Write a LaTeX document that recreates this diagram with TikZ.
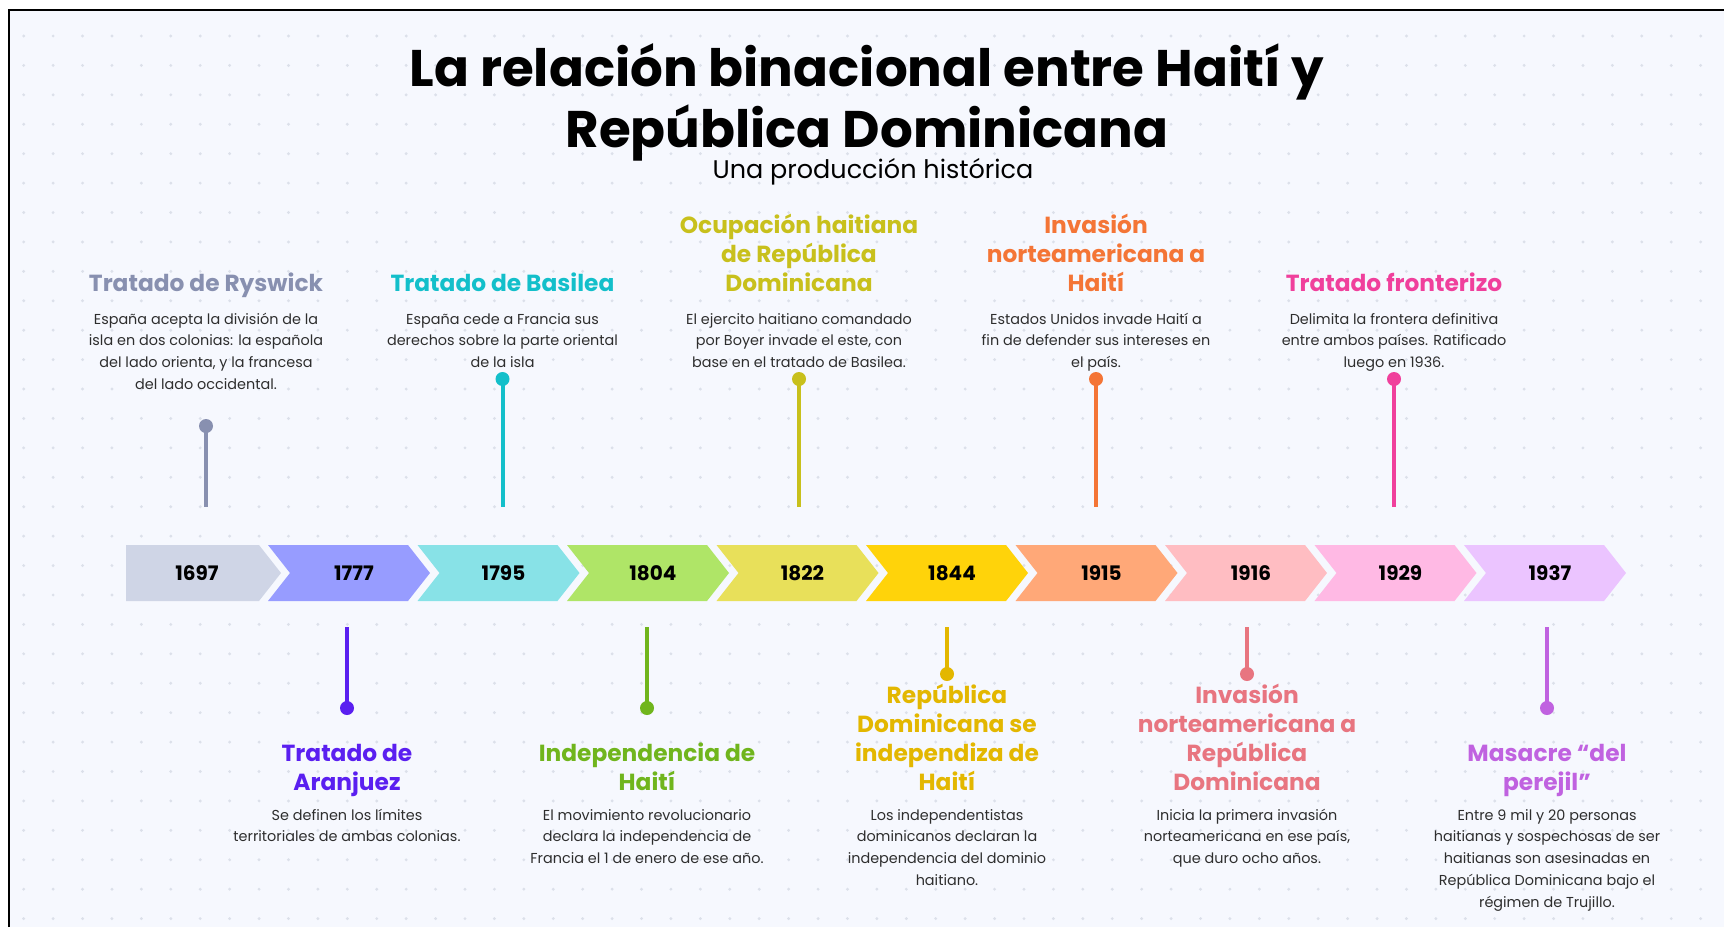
\documentclass[tikz,border=0pt]{standalone}
\usepackage{fontspec}
\setmainfont{Poppins}
\usepackage{xcolor}
\usetikzlibrary{positioning}

\definecolor{paper}{HTML}{F6F8FE}
\definecolor{griddot}{HTML}{DCE0EA}
\definecolor{desctext}{HTML}{2E2E2E}
\definecolor{chevA}{HTML}{CFD5E6}
\definecolor{chevB}{HTML}{979CFF}
\definecolor{chevC}{HTML}{88E2E7}
\definecolor{chevD}{HTML}{AFE567}
\definecolor{chevE}{HTML}{E8E05A}
\definecolor{chevF}{HTML}{FFD30A}
\definecolor{chevG}{HTML}{FFA878}
\definecolor{chevH}{HTML}{FFBDC2}
\definecolor{chevI}{HTML}{FFB9E4}
\definecolor{chevJ}{HTML}{EBC4FF}
\definecolor{ryswick}{HTML}{8890B0}
\definecolor{basilea}{HTML}{13BFCA}
\definecolor{ocupacion}{HTML}{C8C01C}
\definecolor{invhaiti}{HTML}{F47536}
\definecolor{fronterizo}{HTML}{F0409C}
\definecolor{aranjuez}{HTML}{5A1FF0}
\definecolor{independencia}{HTML}{70B51D}
\definecolor{rdindep}{HTML}{E3B700}
\definecolor{invrd}{HTML}{E87580}
\definecolor{masacre}{HTML}{C062E0}

\tikzset{
    evtitle/.style={align=center, inner sep=0pt, anchor=south,
                    font=\fontsize{23.3}{29}\selectfont\bfseries},
    evtext/.style={align=center, inner sep=0pt, anchor=north, text=desctext,
                   font=\fontsize{14.4}{21.7}\selectfont},
    yearlabel/.style={inner sep=0pt, anchor=base, font=\fontsize{20}{24}\selectfont\bfseries},
    pin/.style={line width=4pt},
    pinhead/.style={circle, inner sep=0pt, minimum size=14pt},
}

\begin{document}
\begin{tikzpicture}[x=1pt, y=-1pt]
        \useasboundingbox (0, 0) rectangle (1724, 927);
        \fill[white] (0, 0) rectangle (1724, 927);
        \fill[paper] (8.7, 10) rectangle (1724, 927);
        \draw[line width=2.3pt] (8.7, 927) -- (8.7, 10) -- (1724, 10);
        \foreach \i in {0,...,57}
            \foreach \j in {0,...,30}
                \fill[griddot] (23.7 + 29.42*\i, 36 + 29.42*\j) circle (1.6);

        \node[align=center, inner sep=0pt, anchor=north, font=\fontsize{51.5}{57.4}\selectfont\bfseries]
            (title) at (867, 43.1) {\strut La relación binacional entre Haití y\\República Dominicana};
        \node[anchor=base, inner sep=0pt, text height=17pt, text depth=5pt, font=\fontsize{25.5}{30}\selectfont]
            (subtitle) at (873, 178.5) {Una producción histórica};

        \fill[chevA] (126, 545) -- (259, 545) -- (281, 573) -- (259, 601) -- (126, 601) -- cycle;
        \node[yearlabel] (y1697) at (197, 580) {1697};
        \foreach \i/\yr/\col in {1/1777/chevB, 2/1795/chevC, 3/1804/chevD, 4/1822/chevE,
                                 5/1844/chevF, 6/1915/chevG, 7/1916/chevH, 8/1929/chevI, 9/1937/chevJ} {
            \pgfmathsetmacro\xl{118.5 + 149.5*\i}
            \fill[\col] (\xl, 545) -- (\xl + 140, 545) -- (\xl + 162, 573) -- (\xl + 140, 601)
                        -- (\xl, 601) -- (\xl + 22, 573) -- cycle;
            \node[yearlabel] (y\yr) at (\xl + 86, 580) {\yr};
        }

        \node[evtitle, text=ryswick] (tRyswick) at (206, 300.4) {Tratado de Ryswick\strut};
        \node[evtext] (dRyswick) at (206, 308.8) {\strut España acepta la división de la\\isla en dos colonias: la española\\del lado orienta, y la francesa\\del lado occidental.};
        \node[pinhead, fill=ryswick] (pRyswick) at (206, 426) {};
        \coordinate (sRyswick) at (206, 507);
        \draw[pin, ryswick] (pRyswick.center) -- (sRyswick);

        \node[evtitle, text=basilea] (tBasilea) at (502.5, 300.4) {Tratado de Basilea\strut};
        \node[evtext] (dBasilea) at (502.5, 308.8) {\strut España cede a Francia sus\\derechos sobre la parte oriental\\de la isla};
        \node[pinhead, fill=basilea] (pBasilea) at (502.5, 379) {};
        \coordinate (sBasilea) at (502.5, 507);
        \draw[pin, basilea] (pBasilea.center) -- (sBasilea);

        \node[evtitle, text=ocupacion] (tOcupacion) at (799, 300.4) {Ocupación haitiana\\de República\\Dominicana\strut};
        \node[evtext] (dOcupacion) at (799, 308.8) {\strut El ejercito haitiano comandado\\por Boyer invade el este, con\\base en el tratado de Basilea.};
        \node[pinhead, fill=ocupacion] (pOcupacion) at (799, 379) {};
        \coordinate (sOcupacion) at (799, 507);
        \draw[pin, ocupacion] (pOcupacion.center) -- (sOcupacion);

        \node[evtitle, text=invhaiti] (tInvHaiti) at (1096, 300.4) {Invasión\\norteamericana a\\Haití\strut};
        \node[evtext] (dInvHaiti) at (1096, 308.8) {\strut Estados Unidos invade Haití a\\fin de defender sus intereses en\\el país.};
        \node[pinhead, fill=invhaiti] (pInvHaiti) at (1096, 379) {};
        \coordinate (sInvHaiti) at (1096, 507);
        \draw[pin, invhaiti] (pInvHaiti.center) -- (sInvHaiti);

        \node[evtitle, text=fronterizo] (tFronterizo) at (1394, 300.4) {Tratado fronterizo\strut};
        \node[evtext] (dFronterizo) at (1394, 308.8) {\strut Delimita la frontera definitiva\\entre ambos países. Ratificado\\luego en 1936.};
        \node[pinhead, fill=fronterizo] (pFronterizo) at (1394, 379) {};
        \coordinate (sFronterizo) at (1394, 507);
        \draw[pin, fronterizo] (pFronterizo.center) -- (sFronterizo);

        \coordinate (sAranjuez) at (347, 627);
        \node[pinhead, fill=aranjuez] (pAranjuez) at (347, 708) {};
        \draw[pin, aranjuez] (sAranjuez) -- (pAranjuez.center);
        \node[evtitle, text=aranjuez] (tAranjuez) at (347, 799.4) {Tratado de\\Aranjuez\strut};
        \node[evtext] (dAranjuez) at (347, 804.8) {\strut Se definen los límites\\territoriales de ambas colonias.};

        \coordinate (sIndependencia) at (647, 627);
        \node[pinhead, fill=independencia] (pIndependencia) at (647, 708) {};
        \draw[pin, independencia] (sIndependencia) -- (pIndependencia.center);
        \node[evtitle, text=independencia] (tIndependencia) at (647, 799.4) {Independencia de\\Haití\strut};
        \node[evtext] (dIndependencia) at (647, 804.8) {\strut El movimiento revolucionario\\declara la independencia de\\Francia el 1 de enero de ese año.};

        \coordinate (sRdIndep) at (947, 627);
        \node[pinhead, fill=rdindep] (pRdIndep) at (947, 674) {};
        \draw[pin, rdindep] (sRdIndep) -- (pRdIndep.center);
        \node[evtitle, text=rdindep] (tRdIndep) at (947, 799.4) {República\\Dominicana se\\independiza de\\Haití\strut};
        \node[evtext] (dRdIndep) at (947, 804.8) {\strut Los independentistas\\dominicanos declaran la\\independencia del dominio\\haitiano.};

        \coordinate (sInvRd) at (1247, 627);
        \node[pinhead, fill=invrd] (pInvRd) at (1247, 674) {};
        \draw[pin, invrd] (sInvRd) -- (pInvRd.center);
        \node[evtitle, text=invrd] (tInvRd) at (1247, 799.4) {Invasión\\norteamericana a\\República\\Dominicana\strut};
        \node[evtext] (dInvRd) at (1247, 804.8) {\strut Inicia la primera invasión\\norteamericana en ese país,\\que duro ocho años.};

        \coordinate (sMasacre) at (1547, 627);
        \node[pinhead, fill=masacre] (pMasacre) at (1547, 708) {};
        \draw[pin, masacre] (sMasacre) -- (pMasacre.center);
        \node[evtitle, text=masacre] (tMasacre) at (1547, 799.4) {Masacre “del\\perejil”\strut};
        \node[evtext] (dMasacre) at (1547, 804.8) {\strut Entre 9 mil y 20 personas\\haitianas y sospechosas de ser\\haitianas son asesinadas en\\República Dominicana bajo el\\régimen de Trujillo.};
    \end{tikzpicture}
\end{document}
